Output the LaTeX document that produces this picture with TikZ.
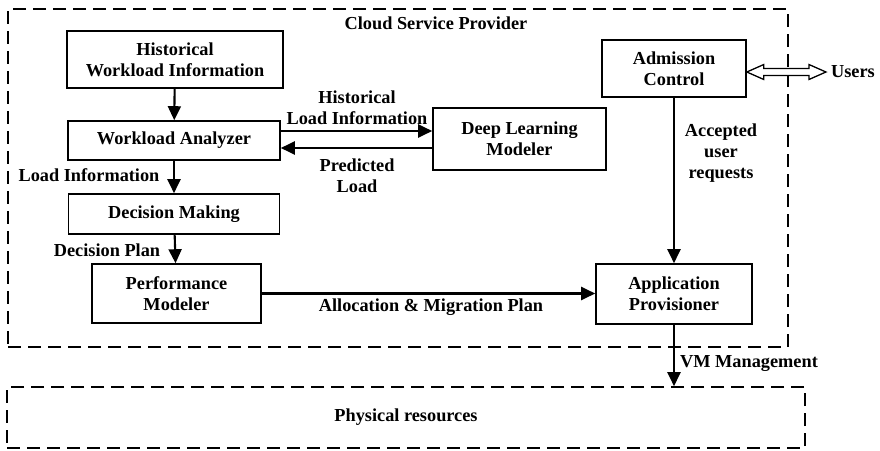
\documentclass[tikz,border=0pt]{standalone}
\usepackage{fontspec}
\setmainfont{Liberation Serif}
\usetikzlibrary{arrows.meta,calc}
\begin{document}
\begin{tikzpicture}[x=1pt,y=-1pt,
  font=\bfseries\fontsize{18.3}{21}\selectfont,
  box/.style={draw,line width=1.6pt,align=center,inner sep=0pt},
  dashbox/.style={draw,line width=1.6pt,dash pattern=on 13pt off 7pt,inner sep=0pt},
  lbl/.style={align=center,inner sep=0pt},
  arr/.style={line width=2.1pt,-{Triangle[length=14pt,width=13pt]}}]
\useasboundingbox (0,0) rectangle (880,450);
% containers
\node[dashbox,minimum width=780pt,minimum height=338pt] (csp) at (398,178) {};
\node[lbl] (csptitle) at (436,23) {Cloud Service Provider};
\node[dashbox,minimum width=798pt,minimum height=61pt] (phys) at (406,417.5) {Physical resources};
% boxes
\node[box,minimum width=216pt,minimum height=57pt] (hwi) at (175,59.5) {Historical\\Workload Information};
\node[box,minimum width=212pt,minimum height=39pt] (wa) at (174,140.5) {Workload Analyzer};
\node[box,minimum width=211pt,minimum height=40pt] (dm) at (174,214) {Decision Making};
\node[box,minimum width=169pt,minimum height=59pt] (pm) at (176.5,293.5) {Performance\\Modeler};
\node[box,minimum width=173pt,minimum height=62pt] (dlm) at (519.5,139) {Deep Learning\\Modeler};
\node[box,minimum width=144pt,minimum height=57pt] (ac) at (674,68.5) {Admission\\Control};
\node[box,minimum width=156pt,minimum height=60pt] (ap) at (674,294) {Application\\Provisioner};
\node[lbl] (users) at (853,72) {Users};
% arrows
\draw[arr] (hwi) -- (wa);
\draw[arr] (wa) -- (dm);
\draw[arr] (dm) -- (pm);
\coordinate (u) at ([yshift=9.5pt]wa.east);
\coordinate (l) at ([yshift=-7.5pt]wa.east);
\draw[arr] (u) -- (u -| dlm.west);
\draw[arr] (l -| dlm.west) -- (l);
\draw[arr] (ac) -- (ap);
\draw[arr] (pm.east) -- (pm.east -| ap.west);
\draw[arr] (ap.south) -- (ap.south |- phys.north);
% double hollow arrow
\coordinate (a) at (ac.east |- users);
\coordinate (b) at ([xshift=-5pt]users.west);
\draw[line width=1.3pt,fill=white] (a) -- ($(a)+(17,-7.5)$) -- ($(a)+(17,-3.5)$) -- ($(b)+(-17,-3.5)$) -- ($(b)+(-17,-7.5)$) -- (b)
  -- ($(b)+(-17,7.5)$) -- ($(b)+(-17,3.5)$) -- ($(a)+(17,3.5)$) -- ($(a)+(17,7.5)$) -- cycle;
% labels
\node[lbl] (l1) at (357,107.5) {Historical\\Load Information};
\node[lbl] (l2) at (357,175.5) {Predicted\\Load};
\node[lbl] (l3) at (89,175) {Load Information};
\node[lbl] (l4) at (107,250) {Decision Plan};
\node[lbl] (l5) at (431,307) {Allocation \& Migration Plan};
\node[lbl] (l6) at (721,153) {Accepted\\user\\requests};
\node[lbl] (l7) at (749,364) {VM Management};
\end{tikzpicture}
\end{document}
